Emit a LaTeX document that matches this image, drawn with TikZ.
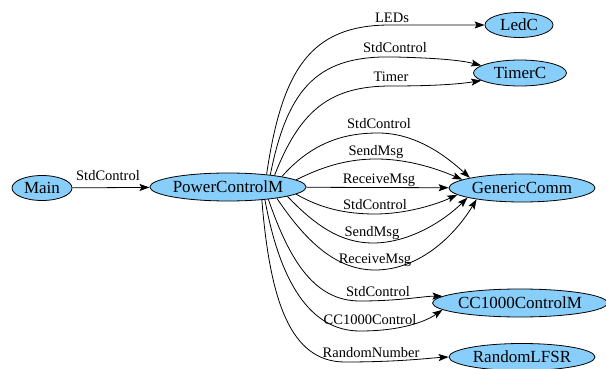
\documentclass[tikz,border=0pt]{standalone}
\usepackage{fontspec}
\setmainfont{Liberation Serif}
\usetikzlibrary{shapes.geometric,arrows.meta}
\definecolor{nodefill}{RGB}{135,206,250}
\begin{document}
\begin{tikzpicture}[x=1pt,y=-1pt,
  comp/.style={ellipse,draw=black,fill=nodefill,line width=0.8pt,inner sep=0pt,font=\fontsize{17}{17}\selectfont},
  conn/.style={line width=0.8pt,-{Stealth[length=10pt,width=7pt,inset=2pt]}},
  elab/.style={inner sep=0pt,font=\fontsize{14.5}{14.5}\selectfont}]
\useasboundingbox (0,0) rectangle (606,369);
% nodes
\node[comp,minimum width=60pt,minimum height=25pt] (main) at (42,188) {Main};
\node[comp,minimum width=150pt,minimum height=28pt] (pcm) at (228,187) {PowerControlM};
\node[comp,minimum width=68pt,minimum height=25pt] (ledc) at (519,25) {LedC};
\node[comp,minimum width=93pt,minimum height=26pt] (timerc) at (520,73) {TimerC};
\node[comp,minimum width=146pt,minimum height=28pt] (gc) at (522,188) {GenericComm};
\node[comp,minimum width=171pt,minimum height=28pt] (cc) at (520,303) {CC1000ControlM};
\node[comp,minimum width=146pt,minimum height=27pt] (rl) at (522,357) {RandomLFSR};
% edges
\draw[conn] (main) -- (pcm);
\draw[conn] (pcm.18) .. controls (282,70) and (310,25) .. (390,25) -- (ledc);
\draw[conn] (pcm.16.6) .. controls (288,85) and (320,55) .. (395,57) .. controls (435,58) and (460,60) .. (timerc.169);
\draw[conn] (pcm.14.5) .. controls (300,110) and (330,86) .. (391,86) .. controls (435,86) and (460,84) .. (timerc.191);
\draw[conn] (pcm.11) .. controls (310,145) and (340,133) .. (378,133) .. controls (415,133) and (445,155) .. (gc.169);
\draw[conn] (pcm.6.4) .. controls (320,168) and (345,159) .. (376,159) .. controls (410,159) and (440,170) .. (gc.172);
\draw[conn] (pcm) -- (gc);
\draw[conn] (pcm.-6.4) .. controls (320,208) and (345,214) .. (375,214) .. controls (405,214) and (435,205) .. (gc.186.4);
\draw[conn] (pcm.-9.2) .. controls (315,225) and (340,243) .. (373,243) .. controls (410,243) and (445,220) .. (gc.190);
\draw[conn] (pcm.-13) .. controls (305,240) and (335,270) .. (375,270) .. controls (420,270) and (455,235) .. (gc.194);
\draw[conn] (pcm.-17) .. controls (290,262) and (315,301) .. (360,301) .. controls (400,301) and (425,296) .. (cc.175);
\draw[conn] (pcm.-19.5) .. controls (280,282) and (310,331) .. (360,331) .. controls (400,331) and (425,322) .. (cc.185);
\draw[conn] (pcm.-21.7) .. controls (270,300) and (290,362) .. (345,362) .. controls (400,362) and (430,358) .. (rl.180);
% labels
\node[elab] (t0) at (108,176) {StdControl};
\node[elab] (t1) at (392,18) {LEDs};
\node[elab] (t2) at (395,48) {StdControl};
\node[elab] (t3) at (391,77) {Timer};
\node[elab] (t4) at (379,124) {StdControl};
\node[elab] (t5) at (376,152) {SendMsg};
\node[elab] (t6) at (379,180) {ReceiveMsg};
\node[elab] (t7) at (375,205) {StdControl};
\node[elab] (t8) at (372,233) {SendMsg};
\node[elab] (t9) at (375,260) {ReceiveMsg};
\node[elab] (t10) at (378,292) {StdControl};
\node[elab] (t11) at (370,320) {CC1000Control};
\node[elab] (t12) at (371,353) {RandomNumber};
\end{tikzpicture}
\end{document}
